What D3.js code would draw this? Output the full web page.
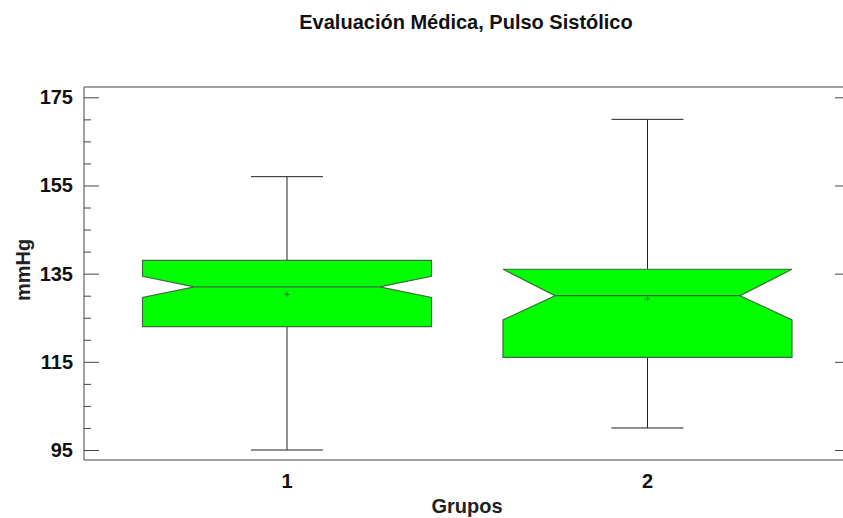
<!DOCTYPE html>
<html>
<head>
<meta charset="utf-8">
<script src="https://cdn.jsdelivr.net/npm/d3@7"></script>
<style>
  html, body { margin: 0; padding: 0; background: #fff; }
  svg { display: block; font-family: "Liberation Sans", Arial, sans-serif; }
</style>
</head>
<body>
<svg id="chart" width="843" height="518"></svg>
<script>
// Systolic pulse by group: five-number summary, notch limits and mean
const groups    = ["1", "2"];
const whiskerLo = [95, 100];
const q1        = [123, 116];
const median    = [132, 130];
const q3        = [138, 136];
const whiskerHi = [157, 170];
const notchLo   = [129.6, 124.5];
const notchHi   = [134.4, 136];
const means     = [130.3, 129.3];

const yTicks      = [95, 115, 135, 155, 175];
const yMinorTicks = d3.range(95, 176, 5).filter(v => !yTicks.includes(v));

const svg = d3.select("#chart");
const frame = { left: 84, right: 850, top: 87, bottom: 460 };

const y = d3.scaleLinear().domain([95, 175]).range([450, 97.3]);
const x = d3.scalePoint().domain(groups).range([287, 647.5]);

const boxHalf = 144.5;      // half width of each box
const notchInset = 52;      // horizontal depth of the notch
const capHalf = 36;         // half width of whisker caps

const g = svg.append("g");

// frame (left, top, bottom, right)
const frameColor = "#444";
g.append("line").attr("x1", frame.left).attr("x2", frame.left)
  .attr("y1", frame.top).attr("y2", frame.bottom).attr("stroke", frameColor);
g.append("line").attr("x1", frame.left).attr("x2", frame.right)
  .attr("y1", frame.top).attr("y2", frame.top).attr("stroke", frameColor);
g.append("line").attr("x1", frame.left).attr("x2", frame.right)
  .attr("y1", frame.bottom).attr("y2", frame.bottom).attr("stroke", frameColor);
g.append("line").attr("x1", frame.right).attr("x2", frame.right)
  .attr("y1", frame.top).attr("y2", frame.bottom).attr("stroke", frameColor);

// left axis: ticks point inward
g.append("g").attr("transform", `translate(${frame.left},0)`)
  .call(d3.axisRight(y).tickValues(yTicks).tickSize(15).tickFormat(""))
  .call(s => s.select(".domain").remove())
  .call(s => s.selectAll("line").attr("stroke", "#444"));
g.append("g").attr("transform", `translate(${frame.left},0)`)
  .call(d3.axisRight(y).tickValues(yMinorTicks).tickSize(7).tickFormat(""))
  .call(s => s.select(".domain").remove())
  .call(s => s.selectAll("line").attr("stroke", "#444"));

// right axis mirror ticks
g.append("g").attr("transform", `translate(${frame.right},0)`)
  .call(d3.axisLeft(y).tickValues(yTicks).tickSize(15).tickFormat(""))
  .call(s => s.select(".domain").remove())
  .call(s => s.selectAll("line").attr("stroke", "#444"));
g.append("g").attr("transform", `translate(${frame.right},0)`)
  .call(d3.axisLeft(y).tickValues(yMinorTicks).tickSize(7).tickFormat(""))
  .call(s => s.select(".domain").remove())
  .call(s => s.selectAll("line").attr("stroke", "#444"));

// y tick labels
g.selectAll(".ylab").data(yTicks).join("text")
  .attr("x", 73).attr("y", d => y(d)).attr("dy", "0.35em")
  .attr("text-anchor", "end").attr("font-size", 20).attr("font-weight", "bold")
  .attr("fill", "#111").text(d => d);

// x tick labels
g.selectAll(".xlab").data(groups).join("text")
  .attr("x", d => x(d)).attr("y", 487.5)
  .attr("text-anchor", "middle").attr("font-size", 20).attr("font-weight", "bold")
  .attr("fill", "#111").text(d => d);

// axis titles and chart title
svg.append("text").attr("x", (frame.left + frame.right) / 2).attr("y", 512.5)
  .attr("text-anchor", "middle").attr("font-size", 20).attr("font-weight", "bold")
  .attr("fill", "#222").text("Grupos");
svg.append("text").attr("transform", `translate(30,270) rotate(-90)`)
  .attr("text-anchor", "middle").attr("font-size", 20).attr("font-weight", "bold")
  .attr("fill", "#222").text("mmHg");
svg.append("text").attr("x", 466).attr("y", 28.5)
  .attr("text-anchor", "middle").attr("font-size", 20).attr("font-weight", "bold")
  .attr("fill", "#111").text("Evaluación Médica, Pulso Sistólico");

// boxes
const data = groups.map((k, i) => ({
  k, lo: whiskerLo[i], q1: q1[i], med: median[i], q3: q3[i], hi: whiskerHi[i],
  nlo: notchLo[i], nhi: notchHi[i], mean: means[i]
}));

const boxes = g.selectAll(".box").data(data).join("g").attr("class", "box");

// whiskers
boxes.append("line")
  .attr("x1", d => x(d.k)).attr("x2", d => x(d.k))
  .attr("y1", d => y(d.hi)).attr("y2", d => y(d.q3)).attr("stroke", "#222");
boxes.append("line")
  .attr("x1", d => x(d.k)).attr("x2", d => x(d.k))
  .attr("y1", d => y(d.q1)).attr("y2", d => y(d.lo)).attr("stroke", "#222");
boxes.append("line")
  .attr("x1", d => x(d.k) - capHalf).attr("x2", d => x(d.k) + capHalf)
  .attr("y1", d => y(d.hi)).attr("y2", d => y(d.hi)).attr("stroke", "#222");
boxes.append("line")
  .attr("x1", d => x(d.k) - capHalf).attr("x2", d => x(d.k) + capHalf)
  .attr("y1", d => y(d.lo)).attr("y2", d => y(d.lo)).attr("stroke", "#222");

// notched box outline
boxes.append("path")
  .attr("d", d => {
    const cx = x(d.k), l = cx - boxHalf, r = cx + boxHalf;
    const li = l + notchInset, ri = r - notchInset;
    const pts = [
      [l, y(d.q3)], [r, y(d.q3)], [r, y(d.nhi)], [ri, y(d.med)], [r, y(d.nlo)],
      [r, y(d.q1)], [l, y(d.q1)], [l, y(d.nlo)], [li, y(d.med)], [l, y(d.nhi)]
    ];
    return d3.line()(pts) + "Z";
  })
  .attr("fill", "#00ff00").attr("stroke", "#3d6b3d").attr("stroke-width", 1.2);

// median line
boxes.append("line")
  .attr("x1", d => x(d.k) - boxHalf + notchInset).attr("x2", d => x(d.k) + boxHalf - notchInset)
  .attr("y1", d => y(d.med)).attr("y2", d => y(d.med))
  .attr("stroke", "#3d6b3d").attr("stroke-width", 1.2);

// mean marker
boxes.append("path")
  .attr("d", d => {
    const cx = x(d.k), cy = y(d.mean);
    return `M${cx - 2.5},${cy}H${cx + 2.5}M${cx},${cy - 2.5}V${cy + 2.5}`;
  })
  .attr("stroke", "#3d6b3d").attr("stroke-width", 1);
</script>
</body>
</html>
